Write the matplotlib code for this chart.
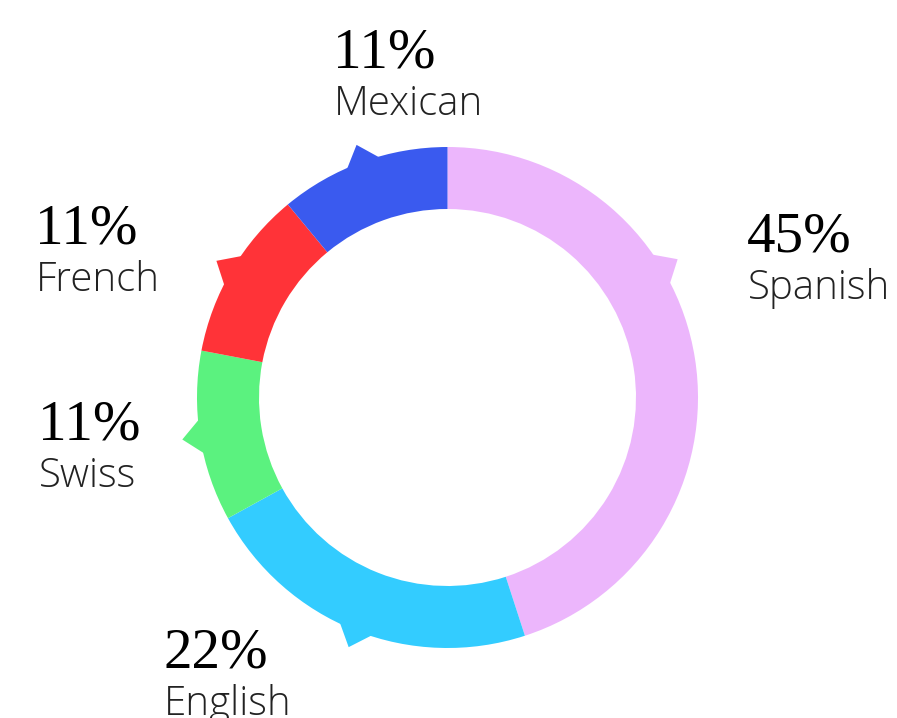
import numpy as np
import matplotlib
matplotlib.use("Agg")
import matplotlib.pyplot as plt
from matplotlib.patches import Polygon

# data
languages = ["Spanish", "English", "Swiss", "French", "Mexican"]
shares = [45, 22, 11, 11, 11]
colors = ["#ECB6FC", "#33CCFF", "#5BF27F", "#FF3338", "#3A5AEF"]

# layout (pixels, y measured from top)
W, H = 897, 718
cx, cy = 447.5, 397.5
r_out, r_in = 250.5, 188.5
notch_shift = [-22, 0, 0, 0, 0]   # clockwise offset of the pointer from slice middle
label_pos = [(747, 251), (163, 667), (38, 439), (35, 243), (333, 67)]

fig = plt.figure(figsize=(W / 100, H / 100), dpi=100)
ax = fig.add_axes([0, 0, 1, 1])

wedges, _ = ax.pie(shares, colors=colors, startangle=90, counterclock=False,
                   center=(cx, H - cy), radius=r_out,
                   wedgeprops=dict(width=r_out - r_in, linewidth=0))
ax.set_xlim(0, W)
ax.set_ylim(0, H)
ax.set_aspect("equal")
ax.axis("off")

# small pointer triangles on the outer edge
for w, shift, c in zip(wedges, notch_shift, colors):
    mid = (w.theta1 + w.theta2) / 2 - shift
    a0, a1, a2 = np.radians([mid - 4.2, mid, mid + 4.2])
    pts = [(cx + (r_out - 2) * np.cos(a0), H - cy + (r_out - 2) * np.sin(a0)),
           (cx + (r_out + 18) * np.cos(a1), H - cy + (r_out + 18) * np.sin(a1)),
           (cx + (r_out - 2) * np.cos(a2), H - cy + (r_out - 2) * np.sin(a2))]
    ax.add_patch(Polygon(pts, closed=True, color=c, lw=0))

for name, val, (x, y) in zip(languages, shares, label_pos):
    ax.text(x, H - y, f"{val}%", family="Liberation Serif", fontsize=41,
            ha="left", va="baseline", color="#000000")
    ax.text(x + 1, H - y - 48, name, family="Open Sans", fontsize=29,
            ha="left", va="baseline", color="#222222", fontweight="light")

fig.savefig("out.png", dpi=100)
